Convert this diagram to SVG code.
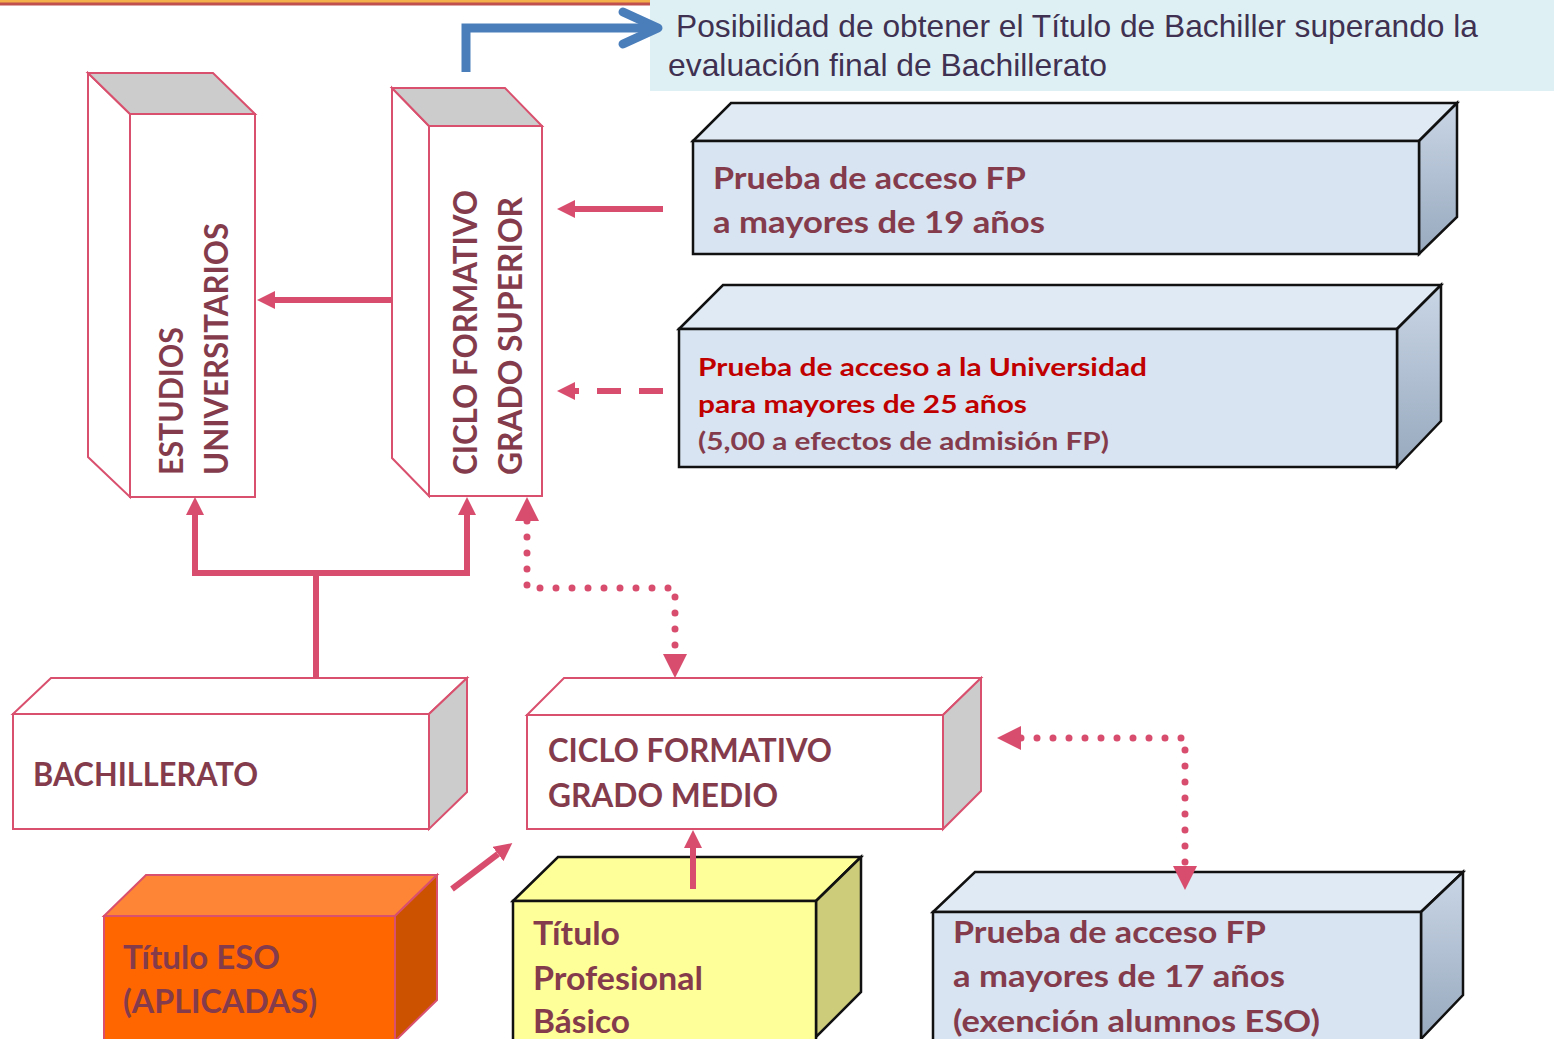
<svg xmlns="http://www.w3.org/2000/svg" width="1554" height="1039" viewBox="0 0 1554 1039">
<defs>
<style>
.pk{stroke:#D9506E;stroke-width:2;stroke-linejoin:miter}
.bk{stroke:#111;stroke-width:2.5;stroke-linejoin:miter}
.w{fill:#fff}
.g{fill:#CCCCCC}
.bl{fill:#D8E4F1}
.blt{fill:#E0EAF5}
.t{font-family:Lato,"Open Sans","Liberation Sans",sans-serif;font-weight:bold;fill:#843C4C}
.red{fill:#C00000}
.info{font-family:"Liberation Sans",Arial,sans-serif;fill:#3F3151;font-size:32px}
.c{fill:none;stroke:#D84C6D;stroke-width:6}
.dot{fill:none;stroke:#D84C6D;stroke-width:7;stroke-linecap:round;stroke-dasharray:0 16}
</style>
<linearGradient id="side" x1="0" y1="0" x2="0" y2="1">
<stop offset="0" stop-color="#C9D6E6"/>
<stop offset="1" stop-color="#98A9BE"/>
</linearGradient>
<marker id="ah" viewBox="0 -9 18 18" refX="0" refY="0" markerWidth="18" markerHeight="18" markerUnits="userSpaceOnUse" orient="auto">
<path d="M0,-9 L18,0 L0,9 z" fill="#D84C6D"/>
</marker>
<marker id="ahs" viewBox="0 -9 18 18" refX="0" refY="0" markerWidth="18" markerHeight="18" markerUnits="userSpaceOnUse" orient="auto-start-reverse">
<path d="M0,-9 L18,0 L0,9 z" fill="#D84C6D"/>
</marker>
<marker id="ahd" viewBox="0 -12 24 24" refX="0" refY="0" markerWidth="24" markerHeight="24" markerUnits="userSpaceOnUse" orient="auto-start-reverse">
<path d="M0,-12 L24,0 L0,12 z" fill="#D84C6D"/>
</marker>
</defs>

<rect width="1554" height="1039" fill="#fff"/>

<g id="top-bar">
<rect x="-5" y="-12" width="677" height="16" fill="#F4B04A" stroke="#C0504D" stroke-width="3"/>
</g>

<g id="info">
<rect x="650" y="0" width="904" height="91" fill="#DFF0F4"/>
<text class="info" x="676" y="37" textLength="802" lengthAdjust="spacingAndGlyphs">Posibilidad de obtener el Título de Bachiller superando la</text>
<text class="info" x="668" y="76" textLength="439" lengthAdjust="spacingAndGlyphs">evaluación final de Bachillerato</text>
</g>

<g id="estudios-universitarios">
<polygon class="pk w" points="88,73 130,114 130,497 88,457"/>
<polygon class="pk g" points="88,73 213,73 255,114 130,114"/>
<rect class="pk w" x="130" y="114" width="125" height="383"/>
<text class="t" font-size="33" transform="translate(183,475) rotate(-90)" textLength="148" lengthAdjust="spacingAndGlyphs">ESTUDIOS</text>
<text class="t" font-size="33" transform="translate(228,475) rotate(-90)" textLength="252" lengthAdjust="spacingAndGlyphs">UNIVERSITARIOS</text>
</g>

<g id="cf-grado-superior">
<polygon class="pk w" points="392,88 429,126 429,496 392,458"/>
<polygon class="pk g" points="392,88 505,88 542,126 429,126"/>
<rect class="pk w" x="429" y="126" width="113" height="370"/>
<text class="t" font-size="33" transform="translate(477,475) rotate(-90)" textLength="285" lengthAdjust="spacingAndGlyphs">CICLO FORMATIVO</text>
<text class="t" font-size="33" transform="translate(522,475) rotate(-90)" textLength="278" lengthAdjust="spacingAndGlyphs">GRADO SUPERIOR</text>
</g>

<g id="prueba-19">
<polygon class="bk blt" points="693,141 731,103 1457,103 1419,141"/>
<polygon class="bk" fill="url(#side)" points="1419,141 1457,103 1457,217 1419,254"/>
<rect class="bk bl" x="693" y="141" width="726" height="113"/>
<text class="t" font-size="31" x="713" y="189" textLength="313" lengthAdjust="spacingAndGlyphs">Prueba de acceso FP</text>
<text class="t" font-size="31" x="713" y="233" textLength="332" lengthAdjust="spacingAndGlyphs">a mayores de 19 años</text>
</g>

<g id="prueba-25">
<polygon class="bk blt" points="679,329 723,285 1441,285 1397,329"/>
<polygon class="bk" fill="url(#side)" points="1397,329 1441,285 1441,421 1397,467"/>
<rect class="bk bl" x="679" y="329" width="718" height="138"/>
<text class="t red" font-size="25" x="698" y="376" textLength="449" lengthAdjust="spacingAndGlyphs">Prueba de acceso a la Universidad</text>
<text class="t red" font-size="25" x="698" y="413" textLength="329" lengthAdjust="spacingAndGlyphs">para mayores de 25 años</text>
<text class="t" font-size="25" x="698" y="450" textLength="411" lengthAdjust="spacingAndGlyphs">(5,00 a efectos de admisión FP)</text>
</g>

<g id="bachillerato">
<polygon class="pk w" points="13,714 51,678 467,678 429,714"/>
<polygon class="pk g" points="429,714 467,678 467,792 429,829"/>
<rect class="pk w" x="13" y="714" width="416" height="115"/>
<text class="t" font-size="32" x="33" y="786" textLength="225" lengthAdjust="spacingAndGlyphs">BACHILLERATO</text>
</g>

<g id="cf-grado-medio">
<polygon class="pk w" points="527,715 564,678 981,678 943,715"/>
<polygon class="pk g" points="943,715 981,678 981,791 943,829"/>
<rect class="pk w" x="527" y="715" width="416" height="114"/>
<text class="t" font-size="32" x="548" y="762" textLength="284" lengthAdjust="spacingAndGlyphs">CICLO FORMATIVO</text>
<text class="t" font-size="32" x="548" y="807" textLength="230" lengthAdjust="spacingAndGlyphs">GRADO MEDIO</text>
</g>

<g id="titulo-eso">
<polygon class="pk" fill="#FD8535" points="104,916 146,875 437,875 395,916"/>
<polygon class="pk" fill="#CC5200" points="395,916 437,875 437,1000 395,1041"/>
<rect class="pk" fill="#FF6600" x="104" y="916" width="291" height="130"/>
<text class="t" font-size="33" x="123" y="969" textLength="157" lengthAdjust="spacingAndGlyphs">Título ESO</text>
<text class="t" font-size="33" x="123" y="1013" textLength="194" lengthAdjust="spacingAndGlyphs">(APLICADAS)</text>
</g>

<g id="titulo-profesional-basico">
<polygon class="bk" fill="#FFFF99" points="513,901 558,857 861,857 816,901"/>
<polygon class="bk" fill="#CCCC7A" points="816,901 861,857 861,992 816,1037"/>
<rect class="bk" fill="#FFFF99" x="513" y="901" width="303" height="145"/>
<text class="t" font-size="33" x="533" y="945" textLength="87" lengthAdjust="spacingAndGlyphs">Título</text>
<text class="t" font-size="33" x="533" y="990" textLength="170" lengthAdjust="spacingAndGlyphs">Profesional</text>
<text class="t" font-size="33" x="533" y="1033" textLength="97" lengthAdjust="spacingAndGlyphs">Básico</text>
</g>

<g id="prueba-17">
<polygon class="bk blt" points="933,912 975,872 1463,872 1421,912"/>
<polygon class="bk" fill="url(#side)" points="1421,912 1463,872 1463,995 1421,1039"/>
<rect class="bk bl" x="933" y="912" width="488" height="135"/>
<text class="t" font-size="31" x="953" y="943" textLength="313" lengthAdjust="spacingAndGlyphs">Prueba de acceso FP</text>
<text class="t" font-size="31" x="953" y="987" textLength="332" lengthAdjust="spacingAndGlyphs">a mayores de 17 años</text>
<text class="t" font-size="31" x="953" y="1032" textLength="367" lengthAdjust="spacingAndGlyphs">(exención alumnos ESO)</text>
</g>

<g id="connectors">
<path d="M466,72 V28 H652" fill="none" stroke="#4A7EBB" stroke-width="9"/>
<polyline points="623,12 658,28 623,44" fill="none" stroke="#4A7EBB" stroke-width="9" stroke-linecap="round" stroke-linejoin="round"/>
<path class="c" d="M392,300 H275" marker-end="url(#ah)"/>
<path class="c" d="M663,209 H575" marker-end="url(#ah)"/>
<path class="c" d="M663,391 H575" stroke-dasharray="24 18" marker-end="url(#ah)"/>
<path class="c" d="M195,515 V573 H467 V515" marker-start="url(#ahs)" marker-end="url(#ah)"/>
<path class="c" d="M316,678 V573"/>
<path class="dot" d="M527,521 V588 H675 V654" marker-start="url(#ahd)" marker-end="url(#ahd)"/>
<path class="dot" d="M1021,738 H1185 V866" marker-start="url(#ahd)" marker-end="url(#ahd)"/>
<path class="c" d="M452,889 L498,854" marker-end="url(#ah)"/>
<path class="c" d="M693,889 V848" marker-end="url(#ah)"/>
</g>
</svg>
